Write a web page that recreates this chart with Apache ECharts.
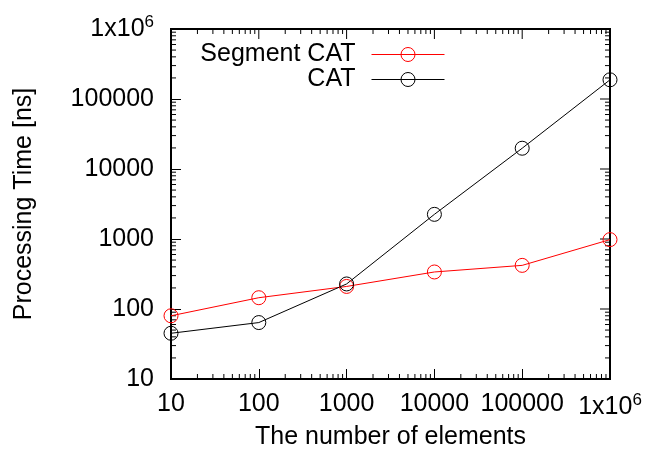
<!DOCTYPE html>
<html>
<head>
<meta charset="utf-8">
<script src="https://cdn.jsdelivr.net/npm/echarts@6/dist/echarts.min.js"></script>
<style>
  html, body { margin: 0; padding: 0; background: #fff; }
  #main { width: 648px; height: 452px; }
</style>
</head>
<body>
<div id="main"></div>
<script>
// data
var elements = [10, 100, 1000, 10000, 100000, 1000000];
var segmentCat = [80, 145, 210, 338, 420, 980];
var cat = [45, 64, 228, 2250, 19800, 188000];

// tick values of both log axes
var xTicks = [10, 100, 1000, 10000, 100000, 1000000];
var yTicks = [10, 100, 1000, 10000, 100000, 1000000];
var tickLabels = ['10', '100', '1000', '10000', '100000', '{a|1x10}{s|6}'];

var FONT = 'Liberation Sans';
var FS = 25;

function fmt(v) {
	// log axis gives float values, snap to our labels
	for (var i = 0; i < xTicks.length; i++) {
		if (Math.abs(Math.log10(v) - Math.log10(xTicks[i])) < 1e-6) return tickLabels[i];
	}
	return '';
}

var richLab = {
	a: { fontFamily: FONT, fontSize: FS, color: '#000' },
	s: { fontFamily: FONT, fontSize: 17, color: '#000', verticalAlign: 'bottom', padding: [0, 0, 14, 0] }
};

// minor ticks 2..9 in each decade
function minors(ticks) {
	var out = [];
	for (var i = 0; i < ticks.length - 1; i++) {
		for (var m = 2; m <= 9; m++) out.push(ticks[i] * m);
	}
	return out;
}
var xMinor = minors(xTicks);
var yMinor = minors(yTicks);

var myChart = echarts.init(document.getElementById('main'));

// legend key: line with hollow circle in the middle
var keyIcon = 'path://M0,7L73,7M29.5,7a7,7 0 1,0 14,0a7,7 0 1,0 -14,0';
var legendText = { fontFamily: FONT, fontSize: FS, color: '#000', padding: [0, 11, 0, 0] };

var option = {
	backgroundColor: '#fff',
	animation: false,
	grid: {
		left: 171, right: 38, top: 29, bottom: 73,
		outerBoundsMode: 'none', containLabel: false,
		show: true, borderColor: '#000', borderWidth: 2
	},
	legend: [
		{
			data: [{ name: 'Segment CAT', icon: keyIcon,
				itemStyle: { color: 'rgba(0,0,0,0)', borderColor: '#ff0000', borderWidth: 1 } }],
			right: 203, top: 42, align: 'right', padding: 0,
			itemWidth: 73, itemHeight: 14, textStyle: legendText
		},
		{
			data: [{ name: 'CAT', icon: keyIcon,
				itemStyle: { color: 'rgba(0,0,0,0)', borderColor: '#000', borderWidth: 1 } }],
			right: 203, top: 67, align: 'right', padding: 0,
			itemWidth: 73, itemHeight: 14, textStyle: legendText
		}
	],
	xAxis: {
		type: 'log', logBase: 10, min: 10, max: 1000000,
		name: 'The number of elements', nameLocation: 'middle', nameGap: 43,
		nameTextStyle: { fontFamily: FONT, fontSize: FS, color: '#000' },
		axisLine: { show: false },
		axisTick: { show: true, inside: true, length: 10, lineStyle: { color: '#000', width: 1 } },
		axisLabel: { formatter: fmt, margin: 13, fontFamily: FONT, fontSize: FS, color: '#000', rich: richLab },
		splitLine: { show: false }
	},
	yAxis: {
		type: 'log', logBase: 10, min: 10, max: 1000000,
		name: 'Processing Time [ns]', nameLocation: 'middle', nameGap: 134,
		nameTextStyle: { fontFamily: FONT, fontSize: FS, color: '#000' },
		axisLine: { show: false },
		axisTick: { show: true, inside: true, length: 10, lineStyle: { color: '#000', width: 1 } },
		axisLabel: { formatter: fmt, margin: 17, fontFamily: FONT, fontSize: FS, color: '#000', rich: richLab },
		splitLine: { show: false }
	},
	series: [
		{
			name: 'Segment CAT',
			type: 'line',
			data: elements.map(function(x, i) { return [x, segmentCat[i]]; }),
			symbol: 'circle', symbolSize: 14,
			itemStyle: { color: 'rgba(0,0,0,0)', borderColor: '#ff0000', borderWidth: 1 },
			lineStyle: { color: '#ff0000', width: 1 },
			emphasis: { disabled: true },
			z: 3
		},
		{
			name: 'CAT',
			type: 'line',
			data: elements.map(function(x, i) { return [x, cat[i]]; }),
			symbol: 'circle', symbolSize: 14,
			itemStyle: { color: 'rgba(0,0,0,0)', borderColor: '#000', borderWidth: 1 },
			lineStyle: { color: '#000', width: 1 },
			emphasis: { disabled: true },
			z: 3
		},
		{
			// mirrored major ticks + minor ticks on all four sides
			type: 'custom',
			silent: true,
			clip: false,
			data: [[10, 10]],
			renderItem: function(params, api) {
				var kids = [];
				var st = { stroke: '#000', lineWidth: 1 };
				function add(x1, y1, x2, y2) {
					kids.push({ type: 'line', shape: { x1: x1, y1: y1, x2: x2, y2: y2 }, style: st });
				}
				var bot = api.coord([10, 10])[1], top = api.coord([10, 1000000])[1];
				var lft = api.coord([10, 10])[0], rgt = api.coord([1000000, 10])[0];
				xTicks.forEach(function(v) {
					var x = api.coord([v, 10])[0];
					add(x, top, x, top + 10);
				});
				yTicks.forEach(function(v) {
					var y = api.coord([10, v])[1];
					add(rgt, y, rgt - 10, y);
				});
				xMinor.forEach(function(v) {
					var x = api.coord([v, 10])[0];
					add(x, bot, x, bot - 5);
					add(x, top, x, top + 5);
				});
				yMinor.forEach(function(v) {
					var y = api.coord([10, v])[1];
					add(lft, y, lft + 5, y);
					add(rgt, y, rgt - 5, y);
				});
				return { type: 'group', children: kids };
			},
			z: 2
		}
	]
};

myChart.setOption(option);
</script>
</body>
</html>
